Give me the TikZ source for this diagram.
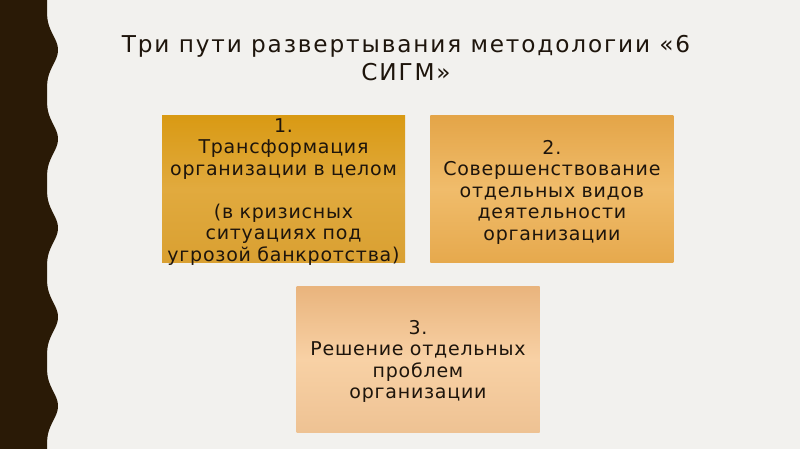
\documentclass[tikz,border=0pt]{standalone}
\usepackage{fontspec}
\setmainfont{DejaVu Sans}
\newfontfamily\titlefont[LetterSpace=8]{DejaVu Sans}
\newfontfamily\boxfont[LetterSpace=4]{DejaVu Sans}
\usetikzlibrary{positioning}
\definecolor{slidebg}{HTML}{F2F1EE}
\definecolor{stripe}{HTML}{2A1A06}
\definecolor{ink}{HTML}{1E150C}
\definecolor{goldtop}{HTML}{D99A14}
\definecolor{goldmid}{HTML}{E1AA3E}
\definecolor{goldbot}{HTML}{D9A032}
\definecolor{ambertop}{HTML}{E4A548}
\definecolor{ambermid}{HTML}{F0BC6B}
\definecolor{amberbot}{HTML}{E6A94D}
\definecolor{peachtop}{HTML}{E9B47D}
\definecolor{peachmid}{HTML}{F8D1A5}
\definecolor{peachbot}{HTML}{EEC293}
\tikzset{
  pathbox/.style={minimum width=243pt, minimum height=146pt, inner sep=0pt},
  pathtext/.style={text width=243pt, align=center, inner sep=0pt, text=ink,
    font=\boxfont\fontsize{19}{21.5}\selectfont},
}

\begin{document}
\begin{tikzpicture}[x=1pt, y=-1pt, node distance=25pt]
        \fill[slidebg] (0,0) rectangle (800,449);
        \useasboundingbox (0,0) rectangle (800,449);
        \fill[stripe] (0,0) -- plot[domain=0:449, samples=300, smooth]
          ({47+11*(0.5+0.5*cos(4.045*(\x-50)))*(0.5+0.5*cos(4.045*(\x-50)))}, \x) -- (0,449) -- cycle;
        \node[text=ink, align=center, font=\titlefont\fontsize{23.2}{28}\selectfont] (title) at (406,58)
          {Три пути развертывания методологии «6\\СИГМ»};
        \node[pathbox, top color=goldtop, bottom color=goldbot, middle color=goldmid] (way1) at (283.5,189) {};
        \node[pathbox, top color=ambertop, bottom color=amberbot, middle color=ambermid, right=of way1] (way2) {};
        \node[pathbox, top color=peachtop, bottom color=peachbot, middle color=peachmid] (way3) at (418,359.5) {};
        \node[pathtext, yshift=-3pt] (way1text) at (way1)
          {1.\\Трансформация\\организации в целом\\[21.5pt](в кризисных\\ситуациях под\\угрозой банкротства)};
        \node[pathtext, yshift=-3pt] (way2text) at (way2)
          {2.\\Совершенствование\\отдельных видов\\деятельности\\организации};
        \node[pathtext, yshift=-2pt] (way3text) at (way3)
          {3.\\Решение отдельных\\проблем\\организации};
\end{tikzpicture}
\end{document}
